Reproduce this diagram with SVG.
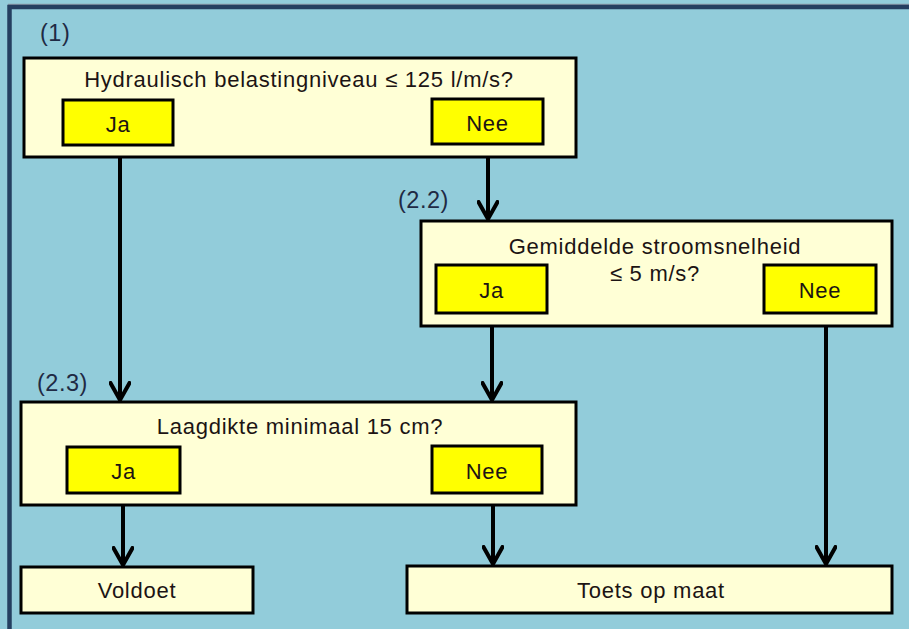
<svg xmlns="http://www.w3.org/2000/svg" width="909" height="629" viewBox="0 0 909 629">
  <defs>
    <style>
      .frame { fill: #92CCDA; stroke: #243F60; stroke-width: 4.5; }
      .q { fill: #FFFFD6; stroke: #000; stroke-width: 3; }
      .opt { fill: #FFFF00; stroke: #000; stroke-width: 3; }
      text { font-family: "Liberation Sans", Arial, sans-serif; font-size: 22px; letter-spacing: 0.75px; fill: #1C1414; text-anchor: middle; }
      .num { fill: #1F2A44; text-anchor: start; font-size: 23.5px; letter-spacing: 0.5px; }
      .link { stroke: #000; stroke-width: 4; fill: none; marker-end: url(#chev); }
    </style>
    <!-- open chevron arrowhead, tip on the line end -->
    <marker id="chev" viewBox="0 0 22 22" refX="19" refY="11" markerWidth="22" markerHeight="22" markerUnits="userSpaceOnUse" orient="auto">
      <path d="M2 1.5 L19 11 L2 20.5" fill="none" stroke="#000" stroke-width="4" stroke-linecap="round" stroke-linejoin="miter"/>
    </marker>
  </defs>

  <!-- background panel -->
  <rect x="0" y="0" width="909" height="629" fill="#92CCDA"/>
  <line x1="8" y1="4.5" x2="909" y2="4.5" stroke="#8A9AA8" stroke-width="1.5"/>
  <rect class="frame" x="9.5" y="7" width="930" height="660"/>

  <!-- connectors -->
  <g id="connectors">
    <line class="link" x1="120" y1="146" x2="120" y2="400"/>
    <line class="link" x1="488" y1="144" x2="488" y2="219"/>
    <line class="link" x1="492" y1="313" x2="492" y2="400"/>
    <line class="link" x1="826" y1="313" x2="826" y2="564"/>
    <line class="link" x1="123" y1="493" x2="123" y2="565"/>
    <line class="link" x1="493" y1="493" x2="493" y2="564"/>
  </g>

  <!-- question 1 -->
  <g id="q1">
    <text class="num" x="40" y="41">(1)</text>
    <rect class="q" x="24" y="58" width="552" height="99"/>
    <text x="299" y="87">Hydraulisch belastingniveau ≤ 125 l/m/s?</text>
    <g id="q1-ja">
      <rect class="opt" x="63" y="100" width="110" height="45"/>
      <text x="118" y="132">Ja</text>
    </g>
    <g id="q1-nee">
      <rect class="opt" x="432" y="99" width="111" height="45"/>
      <text x="487.5" y="131">Nee</text>
    </g>
  </g>

  <!-- question 2.2 -->
  <g id="q22">
    <text class="num" x="398" y="208">(2.2)</text>
    <rect class="q" x="421" y="221" width="471" height="105"/>
    <text x="655" y="254">Gemiddelde stroomsnelheid</text>
    <text x="655" y="281">≤ 5 m/s?</text>
    <g id="q22-ja">
      <rect class="opt" x="436" y="265" width="111" height="48"/>
      <text x="491.5" y="298">Ja</text>
    </g>
    <g id="q22-nee">
      <rect class="opt" x="764" y="265" width="112" height="48"/>
      <text x="820" y="298">Nee</text>
    </g>
  </g>

  <!-- question 2.3 -->
  <g id="q23">
    <text class="num" x="37" y="391">(2.3)</text>
    <rect class="q" x="21" y="402" width="555" height="103"/>
    <text x="300" y="434">Laagdikte minimaal 15 cm?</text>
    <g id="q23-ja">
      <rect class="opt" x="67" y="447" width="113" height="46"/>
      <text x="123.5" y="479">Ja</text>
    </g>
    <g id="q23-nee">
      <rect class="opt" x="432" y="446" width="110" height="47"/>
      <text x="487" y="479">Nee</text>
    </g>
  </g>

  <!-- outcomes -->
  <g id="voldoet">
    <rect class="q" x="21" y="567" width="232" height="46"/>
    <text x="137" y="598">Voldoet</text>
  </g>
  <g id="toets-op-maat">
    <rect class="q" x="407" y="566" width="485" height="47"/>
    <text x="651" y="598">Toets op maat</text>
  </g>
</svg>
